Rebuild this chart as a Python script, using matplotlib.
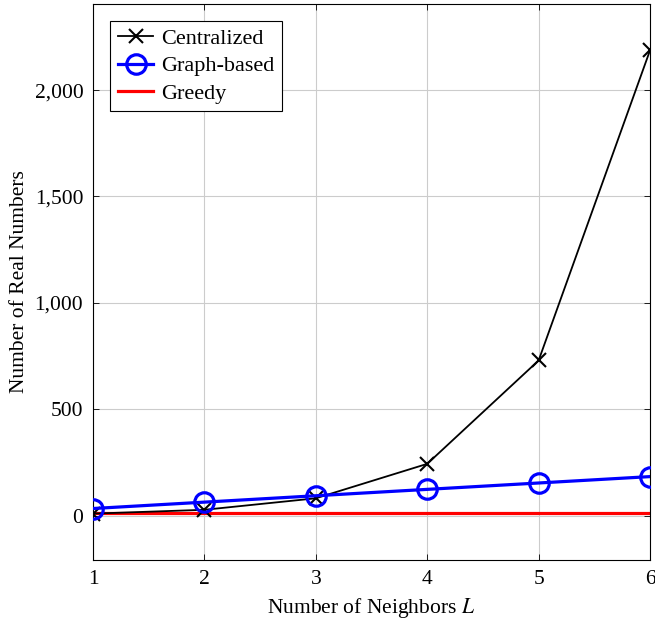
import matplotlib
matplotlib.use('Agg')
import matplotlib.pyplot as plt
from matplotlib.ticker import FuncFormatter

# data
neighbors = [1, 2, 3, 4, 5, 6]
centralized = [9, 27, 81, 243, 729, 2187]
graph_based = [33, 63, 93, 123, 153, 183]
greedy = [12, 12, 12, 12, 12, 12]

y_ticks = [0, 500, 1000, 1500, 2000]

plt.rcParams['font.family'] = ['Liberation Serif', 'DejaVu Serif']
plt.rcParams['mathtext.fontset'] = 'stix'
plt.rcParams['font.size'] = 15.5

fig = plt.figure(figsize=(6.55, 6.22), dpi=100)
ax = fig.add_axes([0.142, 0.0997, 0.8504, 0.8939])

ax.plot(neighbors, centralized, color='black', lw=1.3, marker='x',
        markersize=10, markeredgewidth=1.5, label='Centralized', zorder=3)
ax.plot(neighbors, graph_based, color='blue', lw=2.3, marker='o',
        markersize=14, markeredgewidth=2.3, markerfacecolor='none',
        label='Graph-based', zorder=4)
ax.plot(neighbors, greedy, color='red', lw=2.3, label='Greedy', zorder=2)

ax.set_xlim(1, 6)
ax.set_ylim(-209, 2405)
ax.set_xticks(neighbors)
ax.set_yticks(y_ticks)
ax.yaxis.set_major_formatter(FuncFormatter(lambda v, p: f'{int(v):,}'))

ax.grid(True, color='#cccccc', lw=0.8)
ax.set_axisbelow(True)
ax.tick_params(direction='in', length=4, width=0.6, top=True, right=True, pad=7)
for s in ax.spines.values():
    s.set_linewidth(0.8)

ax.set_xlabel('Number of Neighbors $L$', labelpad=5)
ax.set_ylabel('Number of Real Numbers', labelpad=4)

leg = ax.legend(loc='upper left', bbox_to_anchor=(0.0305, 0.9695),
                borderaxespad=0, fancybox=False, edgecolor='black',
                framealpha=1, borderpad=0.35, labelspacing=0.3,
                handlelength=1.6, handletextpad=0.35, fontsize=16)
leg.get_frame().set_linewidth(0.8)

plt.savefig('out.png', dpi=100)
plt.close()
